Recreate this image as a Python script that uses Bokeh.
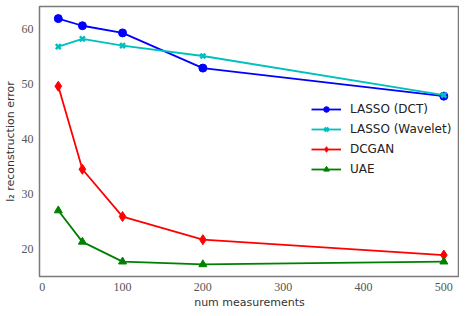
from bokeh.plotting import figure
from bokeh.models import Range1d, Legend, LegendItem, FixedTicker
from bokeh.embed import file_html
from bokeh.resources import INLINE

measurements = [20, 50, 100, 200, 500]
lasso_dct = [61.9, 60.6, 59.3, 52.9, 47.8]
lasso_wavelet = [56.8, 58.2, 57.0, 55.1, 48.0]
dcgan = [49.6, 34.5, 25.9, 21.7, 18.9]
uae = [27.0, 21.3, 17.7, 17.2, 17.7]

x_ticks = [0, 100, 200, 300, 400, 500]
y_ticks = [20, 30, 40, 50, 60]

p = figure(width=459, height=311, output_backend="svg", toolbar_location=None,
           x_range=Range1d(-3.4, 519.5), y_range=Range1d(15.0, 64.1),
           min_border_left=0, min_border_right=0, min_border_top=6, min_border_bottom=0)
p.xgrid.visible = False
p.ygrid.visible = False
p.outline_line_color = "#7a7a7a"
p.outline_line_width = 1.5
p.background_fill_color = "white"
p.border_fill_color = "white"

for ax in (p.xaxis, p.yaxis):
    ax.axis_line_color = None
    ax.major_tick_line_color = None
    ax.minor_tick_line_color = None
    ax.major_tick_out = 0
    ax.major_tick_in = 0
    ax.minor_tick_out = 0
    ax.minor_tick_in = 0
    ax.major_label_text_font = "Liberation Serif"
    ax.major_label_text_font_size = "12px"
    ax.major_label_text_color = "#555555"
    ax.axis_label_text_font = "DejaVu Sans"
    ax.axis_label_text_font_size = "11px"
    ax.axis_label_text_font_style = "normal"
    ax.axis_label_text_color = "#333333"

p.xaxis.ticker = FixedTicker(ticks=x_ticks)
p.yaxis.ticker = FixedTicker(ticks=y_ticks)
p.xaxis.major_label_standoff = 6
p.yaxis.major_label_standoff = 6
p.xaxis.axis_label = "num measurements"
p.xaxis.axis_label_standoff = 2
p.yaxis.axis_label = "l\u2082 reconstruction error"
p.yaxis.axis_label_standoff = 2

series = [
    ("LASSO (DCT)", lasso_dct, "#0000ff", "circle", 8),
    ("LASSO (Wavelet)", lasso_wavelet, "#00bfbf", "x", 7),
    ("DCGAN", dcgan, "#ff0000", "diamond", 10),
    ("UAE", uae, "#008000", "triangle", 8),
]

items = []
for name, ys, color, marker, size in series:
    l = p.line(measurements, ys, line_color=color, line_width=1.8)
    if marker == "x":
        s = p.scatter(measurements, ys, marker="x", size=size, line_color=color, line_width=2.5)
    else:
        s = p.scatter(measurements, ys, marker=marker, size=size, fill_color=color, line_color=color)
    items.append(LegendItem(label=name, renderers=[l, s]))

legend = Legend(items=items, location=(272, 100), border_line_alpha=0,
                background_fill_alpha=0, padding=0, margin=0, spacing=6,
                glyph_width=30, glyph_height=14, label_height=14,
                label_standoff=9, label_text_font="DejaVu Sans",
                label_text_font_size="12px", label_text_color="#222222")
p.add_layout(legend, "center")

open("out.html", "w").write(file_html(p, INLINE))
